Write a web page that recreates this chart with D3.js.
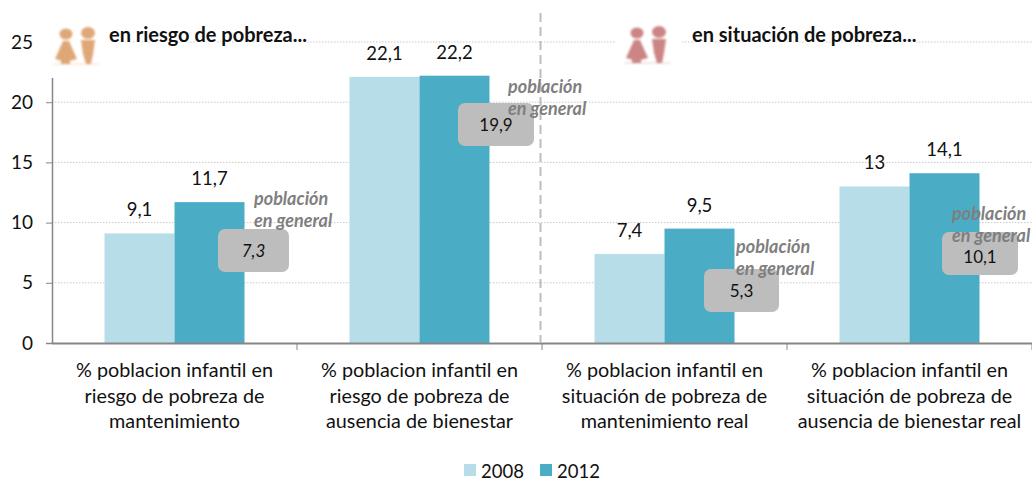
<!DOCTYPE html>
<html>
<head>
<meta charset="utf-8">
<script src="https://cdn.jsdelivr.net/npm/d3@7"></script>
<style>
  html, body { margin: 0; padding: 0; background: #fff; }
  svg { display: block; }
  text { font-family: Lato, sans-serif; fill: #111; }
</style>
</head>
<body>
<div id="chart"></div>
<script>
// data
var categories = [
  ["% poblacion infantil en", "riesgo de pobreza de", "mantenimiento"],
  ["% poblacion infantil en", "riesgo de pobreza de", "ausencia de bienestar"],
  ["% poblacion infantil en", "situación de pobreza de", "mantenimiento real"],
  ["% poblacion infantil en", "situación de pobreza de", "ausencia de bienestar real"]
];
var years = ["2008", "2012"];
var values2008 = [9.1, 22.1, 7.4, 13];
var values2012 = [11.7, 22.2, 9.5, 14.1];
var labels2008 = ["9,1", "22,1", "7,4", "13"];
var labels2012 = ["11,7", "22,2", "9,5", "14,1"];
var generalLabels = ["7,3", "19,9", "5,3", "10,1"];
var yTicks = [0, 5, 10, 15, 20, 25];

var svgWidth = 1032;
var svgHeight = 481;
var margin = { top: 42, right: 0, bottom: 138, left: 52 };
var colors = { "2008": "#b7dde8", "2012": "#4bacc6" };

var svg = d3.select("#chart").append("svg")
  .attr("width", svgWidth)
  .attr("height", svgHeight);

var defs = svg.append("defs");
defs.append("filter").attr("id", "soft")
  .append("feGaussianBlur").attr("stdDeviation", 0.8);

var catIndex = d3.range(categories.length);

var x0 = d3.scaleBand()
  .domain(catIndex)
  .range([margin.left, svgWidth - margin.right])
  .paddingInner(0.4286)
  .paddingOuter(0.2143);

var x1 = d3.scaleBand()
  .domain(years)
  .range([0, x0.bandwidth()]);

var y = d3.scaleLinear()
  .domain([0, 25])
  .range([svgHeight - margin.bottom, margin.top]);

// gridlines
svg.append("g").selectAll("line")
  .data(yTicks.filter(d => d > 0))
  .enter().append("line")
  .attr("x1", margin.left)
  .attr("x2", svgWidth)
  .attr("y1", d => y(d))
  .attr("y2", d => y(d))
  .attr("stroke", "#c8c8c8")
  .attr("stroke-width", 1)
  .attr("stroke-dasharray", "1.5 1.5");

// bars
var groups = svg.append("g").selectAll("g")
  .data(catIndex)
  .enter().append("g")
  .attr("transform", d => `translate(${x0(d)}, 0)`);

groups.append("rect")
  .attr("x", x1("2008"))
  .attr("y", d => y(values2008[d]))
  .attr("width", x1.bandwidth())
  .attr("height", d => y(0) - y(values2008[d]))
  .attr("fill", colors["2008"]);

groups.append("rect")
  .attr("x", x1("2012"))
  .attr("y", d => y(values2012[d]))
  .attr("width", x1.bandwidth())
  .attr("height", d => y(0) - y(values2012[d]))
  .attr("fill", colors["2012"]);

groups.append("text")
  .attr("x", x1("2008") + x1.bandwidth() / 2)
  .attr("y", d => y(values2008[d]) - 17)
  .attr("text-anchor", "middle")
  .attr("font-size", "18.5px")
  .text(d => labels2008[d]);

groups.append("text")
  .attr("x", x1("2012") + x1.bandwidth() / 2)
  .attr("y", d => y(values2012[d]) - 17)
  .attr("text-anchor", "middle")
  .attr("font-size", "18.5px")
  .text(d => labels2012[d]);

// y axis
var leftAxis = d3.axisLeft(y).tickValues(yTicks).tickSize(6).tickPadding(13);
var yAxis = svg.append("g")
  .attr("transform", `translate(${margin.left}, 0)`)
  .call(leftAxis);
yAxis.select(".domain").attr("stroke", "#868686").attr("stroke-width", 1.5);
yAxis.selectAll(".tick line").attr("stroke", "#868686");
yAxis.selectAll(".tick text").attr("font-size", "19px").attr("fill", "#111")
  .style("font-family", "Lato, sans-serif");

// x axis, labels centered on the groups and ticks on the band edges
var bottomAxis = d3.axisBottom(x0).tickSize(0).tickFormat("");
var xAxis = svg.append("g")
  .attr("transform", `translate(0, ${y(0)})`)
  .call(bottomAxis);
xAxis.select(".domain").attr("stroke", "#868686").attr("stroke-width", 2);

svg.append("g").selectAll("line")
  .data(d3.range(1, categories.length + 1))
  .enter().append("line")
  .attr("x1", d => margin.left + d * x0.step())
  .attr("x2", d => margin.left + d * x0.step())
  .attr("y1", y(0))
  .attr("y2", y(0) + 7)
  .attr("stroke", "#868686");

var catLabels = svg.append("g").selectAll("text")
  .data(catIndex)
  .enter().append("text")
  .attr("text-anchor", "middle")
  .attr("font-size", "19.8px")
  .attr("y", y(0) + 34);

catLabels.selectAll("tspan")
  .data(d => categories[d].map(line => ({ line: line, cat: d })))
  .enter().append("tspan")
  .attr("x", d => x0(d.cat) + x0.bandwidth() / 2)
  .attr("dy", (d, i) => i == 0 ? 0 : 25.5)
  .text(d => d.line);

// dashed divider between the two blocks
svg.append("line")
  .attr("x1", 540.5)
  .attr("x2", 540.5)
  .attr("y1", 13)
  .attr("y2", y(0))
  .attr("stroke", "#bdbdbd")
  .attr("stroke-width", 2)
  .attr("stroke-dasharray", "9 5");

// callouts with the general population figure
var calloutX = [218, 458, 704, 942];
var calloutY = [229, 103, 269, 232];
var calloutW = [71, 76, 75, 76];
var calloutH = 43;
var calloutValueDy = [28, 28, 28, 31];
var calloutTextX = [254, 508, 736, 952];
var calloutTextY = [205, 93, 253, 220];

var callouts = svg.append("g").selectAll("g")
  .data(catIndex)
  .enter().append("g");

callouts.append("rect")
  .attr("x", d => calloutX[d])
  .attr("y", d => calloutY[d])
  .attr("width", d => calloutW[d])
  .attr("height", calloutH)
  .attr("rx", 7)
  .attr("fill", "#bdbdbd");

callouts.append("text")
  .attr("x", d => calloutX[d] + calloutW[d] / 2)
  .attr("y", d => calloutY[d] + calloutValueDy[d])
  .attr("text-anchor", "middle")
  .attr("font-size", "17px")
  .attr("font-style", d => d == 0 ? "italic" : "normal")
  .text(d => generalLabels[d]);

callouts.append("text")
  .attr("x", d => calloutTextX[d])
  .attr("y", d => calloutTextY[d])
  .attr("font-size", "18px")
  .attr("font-weight", "bold")
  .attr("font-style", "italic")
  .style("fill", "#7f7f7f")
  .text("población");

callouts.append("text")
  .attr("x", d => calloutTextX[d])
  .attr("y", d => calloutTextY[d] + 22)
  .attr("font-size", "18px")
  .attr("font-weight", "bold")
  .attr("font-style", "italic")
  .style("fill", "#7f7f7f")
  .text("en general");

// little girl and boy icons
function drawIcon(px, py, color) {
  var g = svg.append("g")
    .attr("transform", `translate(${px}, ${py})`);
  g.append("rect")
    .attr("x", -10).attr("y", -6)
    .attr("width", 65).attr("height", 56)
    .attr("fill", "#fff");
  var p = g.append("g").attr("fill", color).attr("filter", "url(#soft)");
  p.append("ellipse").attr("cx", 11).attr("cy", 6).attr("rx", 6.5).attr("ry", 5.5);
  p.append("path").attr("d", "M8 13 L14 13 L22 31 Q11 35 0 31 Z");
  p.append("rect").attr("x", 6).attr("y", 32).attr("width", 9).attr("height", 4);
  p.append("ellipse").attr("cx", 33).attr("cy", 5).attr("rx", 7).attr("ry", 6);
  p.append("path").attr("d", "M26 12 L40 12 L38 26 L36 36 L31 36 L28 26 Z");
  p.append("line").attr("x1", -2).attr("x2", 44).attr("y1", 36).attr("y2", 36)
    .attr("stroke", color).attr("stroke-width", 0.8).attr("opacity", 0.5);
}
drawIcon(55, 28, "#dfa777");
drawIcon(626, 27, "#cc8585");

// block titles
var blockTitles = ["en riesgo de pobreza...", "en situación de pobreza..."];
var blockX = [109, 692];
svg.append("g").selectAll("text")
  .data(blockTitles)
  .enter().append("text")
  .attr("x", (d, i) => blockX[i])
  .attr("y", 42)
  .attr("font-size", "20px")
  .attr("font-weight", "bold")
  .attr("stroke", "#fff")
  .attr("stroke-width", 3)
  .attr("paint-order", "stroke")
  .text(d => d);

// legend
var legendX = [464, 540];
var legend = svg.append("g").selectAll("g")
  .data(years)
  .enter().append("g")
  .attr("transform", (d, i) => `translate(${legendX[i]}, 464)`);

legend.append("rect")
  .attr("width", 12)
  .attr("height", 12)
  .attr("fill", d => colors[d]);

legend.append("text")
  .attr("x", 17)
  .attr("y", 14)
  .attr("font-size", "18.5px")
  .text(d => d);
</script>
</body>
</html>
